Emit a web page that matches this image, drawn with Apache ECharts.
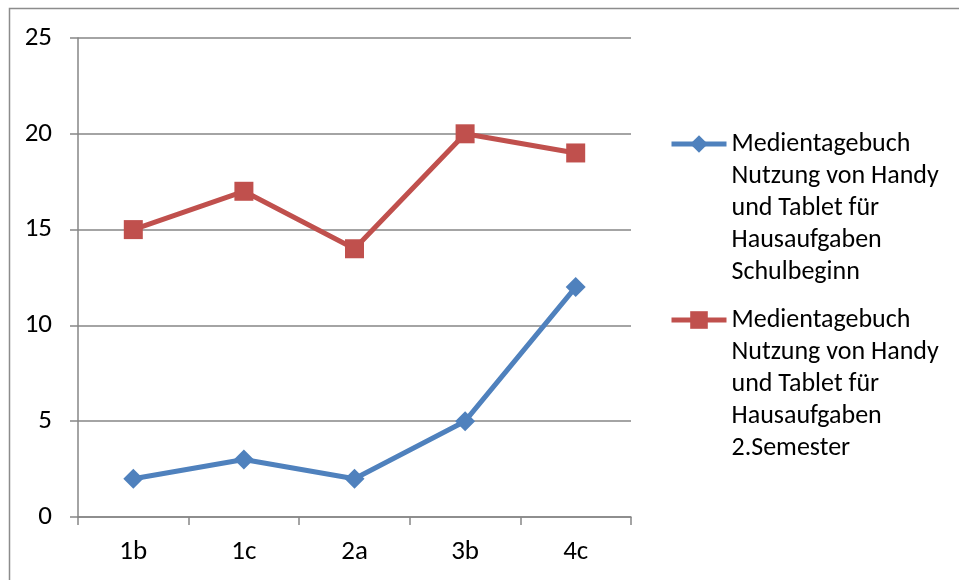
<!DOCTYPE html>
<html>
<head>
<meta charset="utf-8">
<script src="https://cdn.jsdelivr.net/npm/echarts@6/dist/echarts.min.js"></script>
<style>
  html, body { margin: 0; padding: 0; background: #fff; }
  #chart { width: 959px; height: 580px; }
</style>
</head>
<body>
<div id="chart"></div>
<script>
// Classes and counts per survey
const classes = ['1b', '1c', '2a', '3b', '4c'];
const seriesNames = [
  'Medientagebuch\nNutzung von Handy\nund Tablet für\nHausaufgaben\nSchulbeginn',
  'Medientagebuch\nNutzung von Handy\nund Tablet für\nHausaufgaben\n2.Semester'
];
const schulbeginn = [2, 3, 2, 5, 12];
const semester2 = [15, 17, 14, 20, 19];
const yTicks = { min: 0, max: 25, interval: 5 };

const FONT = 'Carlito, Calibri, Lato, sans-serif';
const GRAY = '#868686';
const BLUE = '#4F81BD';
const RED = '#C0504D';

const chart = echarts.init(document.getElementById('chart'), null, { renderer: 'canvas' });

// Legend text sits below its icon: pad the label block with leading blank lines
const legendFmt = name => '\n\n\n\n' + name;
const legendBase = {
  orient: 'vertical',
  left: 669,
  padding: 0,
  itemWidth: 55,
  itemHeight: 22,
  formatter: legendFmt,
  selectedMode: false,
  lineStyle: { width: 5 },
  textStyle: { fontFamily: FONT, fontSize: 26, color: '#000', lineHeight: 32 }
};

const axisText = { color: '#000', fontFamily: FONT, fontSize: 27 };

chart.setOption({
  animation: false,
  backgroundColor: '#fff',
  graphic: [{
    type: 'rect',
    shape: { x: 9.5, y: 8.5, width: 980, height: 600 },
    style: { fill: 'none', stroke: '#8c8c8c', lineWidth: 1.5 },
    silent: true
  }],
  grid: { left: 78, right: 328, top: 38, bottom: 63, containLabel: false },
  legend: [
    Object.assign({}, legendBase, { top: 0, data: [seriesNames[0]] }),
    Object.assign({}, legendBase, { top: 176, data: [seriesNames[1]] })
  ],
  xAxis: {
    type: 'category',
    data: classes,
    boundaryGap: true,
    axisLine: { lineStyle: { color: GRAY, width: 1.5 } },
    axisTick: { show: true, length: 8, lineStyle: { color: GRAY, width: 1.5 } },
    axisLabel: Object.assign({ margin: 22 }, axisText),
    splitLine: { show: false }
  },
  yAxis: {
    type: 'value',
    min: yTicks.min,
    max: yTicks.max,
    interval: yTicks.interval,
    axisLine: { show: true, lineStyle: { color: GRAY, width: 1.5 } },
    axisTick: { show: true, length: 8, lineStyle: { color: GRAY, width: 1.5 } },
    axisLabel: Object.assign({ margin: 26 }, axisText),
    splitLine: { show: true, lineStyle: { color: GRAY, width: 1.5 } }
  },
  series: [
    {
      name: seriesNames[0],
      type: 'line',
      data: schulbeginn,
      symbol: 'diamond',
      symbolSize: 20,
      lineStyle: { color: BLUE, width: 5 },
      itemStyle: { color: BLUE },
      z: 3
    },
    {
      name: seriesNames[1],
      type: 'line',
      data: semester2,
      symbol: 'rect',
      symbolSize: 19,
      lineStyle: { color: RED, width: 5 },
      itemStyle: { color: RED },
      z: 3
    }
  ]
});
</script>
</body>
</html>
